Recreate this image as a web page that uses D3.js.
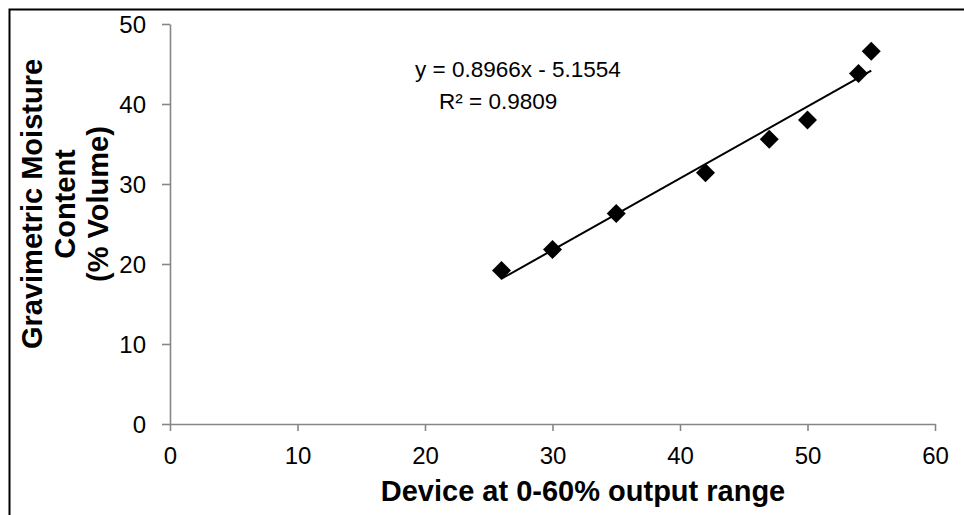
<!DOCTYPE html>
<html>
<head>
<meta charset="utf-8">
<script src="https://cdn.jsdelivr.net/npm/d3@7"></script>
<style>
  html, body { margin: 0; padding: 0; background: #fff; }
  svg { display: block; }
  text { font-family: "Liberation Sans", Arial, sans-serif; fill: #000; }
</style>
</head>
<body>
<svg id="chart" width="964" height="515"></svg>
<script>
// Data
const deviceX = [26, 30, 35, 42, 47, 50, 54, 55];
const moistureY = [19.2, 21.8, 26.3, 31.4, 35.6, 38.0, 43.8, 46.6];
const xTicks = [0, 10, 20, 30, 40, 50, 60];
const yTicks = [0, 10, 20, 30, 40, 50];
const trendSlope = 0.8966;
const trendIntercept = -5.1554;
const equationLines = ["y = 0.8966x - 5.1554", "R² = 0.9809"];
const xTitle = "Device at 0-60% output range";
const yTitleLines = ["Gravimetric Moisture", "Content", "(% Volume)"];

const svg = d3.select("#chart");
const plot = { left: 170, right: 935, top: 24, bottom: 424 };

const x = d3.scaleLinear().domain([0, 60]).range([plot.left, plot.right]);
const y = d3.scaleLinear().domain([0, 50]).range([plot.bottom, plot.top]);

// outer frame (extends past right/bottom edges)
svg.append("rect")
  .attr("x", 9.5).attr("y", 9.5)
  .attr("width", 1000).attr("height", 1000)
  .attr("fill", "none").attr("stroke", "#000").attr("stroke-width", 2);

const axisColor = "#868686";

// x axis
const gx = svg.append("g").attr("transform", `translate(0,${plot.bottom})`)
  .call(d3.axisBottom(x).tickValues(xTicks).tickSize(7).tickSizeOuter(0).tickPadding(16));
// y axis
const gy = svg.append("g").attr("transform", `translate(${plot.left},0)`)
  .call(d3.axisLeft(y).tickValues(yTicks).tickSize(8).tickSizeOuter(0).tickPadding(16));

[gx, gy].forEach(g => {
  g.select(".domain").attr("stroke", axisColor).attr("stroke-width", 1.6);
  g.selectAll(".tick line").attr("stroke", axisColor).attr("stroke-width", 1.6);
  g.selectAll(".tick text")
    .attr("font-size", 24)
    .attr("font-family", "'Liberation Sans', Arial, sans-serif")
    .attr("fill", "#000");
});
gy.selectAll(".tick text").attr("dy", "0.36em");

// trendline
const xMin = d3.min(deviceX), xMax = d3.max(deviceX);
svg.append("line")
  .attr("x1", x(xMin)).attr("y1", y(trendSlope * xMin + trendIntercept))
  .attr("x2", x(xMax)).attr("y2", y(trendSlope * xMax + trendIntercept))
  .attr("stroke", "#000").attr("stroke-width", 2);

// markers (diamonds)
const diamond = d3.symbol().type(d3.symbolSquare).size(180);
svg.append("g").selectAll("path")
  .data(deviceX.map((d, i) => [d, moistureY[i]]))
  .join("path")
  .attr("d", diamond)
  .attr("transform", d => `translate(${x(d[0])},${y(d[1])}) rotate(45)`)
  .attr("fill", "#000");

// equation text
svg.append("text").attr("x", 415).attr("y", 77)
  .attr("font-size", 22.5).text(equationLines[0]);
svg.append("text").attr("x", 439).attr("y", 109)
  .attr("font-size", 22.5).text(equationLines[1]);

// x title
svg.append("text")
  .attr("x", 583).attr("y", 501)
  .attr("text-anchor", "middle")
  .attr("font-size", 29).attr("font-weight", "bold")
  .text(xTitle);

// y title
const yt = svg.append("text")
  .attr("transform", "translate(0,204) rotate(-90)")
  .attr("text-anchor", "middle")
  .attr("font-size", 29).attr("font-weight", "bold");
yTitleLines.forEach((t, i) => {
  yt.append("tspan").attr("x", 0).attr("y", 42 + i * 33).text(t);
});
</script>
</body>
</html>
